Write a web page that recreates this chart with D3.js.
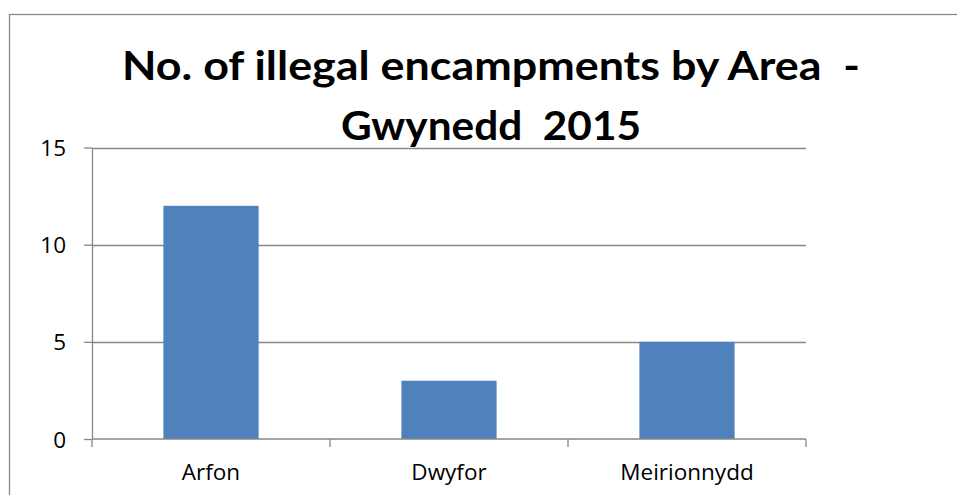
<!DOCTYPE html>
<html><head><meta charset="utf-8">
<script src="https://cdn.jsdelivr.net/npm/d3@7"></script>
<style>body{margin:0;background:#fff}svg{display:block}text{white-space:pre}</style>
</head><body>
<svg id="c" width="957" height="495"></svg>
<script>
const categories = ["Arfon", "Dwyfor", "Meirionnydd"];
const values = [12, 3, 5];
const yTicks = [0, 5, 10, 15];
const titleLines = ["No. of illegal encampments by Area  -", "Gwynedd  2015"];

const svg = d3.select("#c");
const plot = {left: 92, right: 806, top: 147.5, bottom: 439};
const grey = "#878787";

svg.append("rect").attr("x", 9.5).attr("y", 14.5).attr("width", 1000).attr("height", 600)
  .attr("fill", "#fff").attr("stroke", grey).attr("stroke-width", 1.3);

const x = d3.scaleBand().domain(categories).range([plot.left, plot.right])
  .paddingInner(0.6).paddingOuter(0.3);
const y = d3.scaleLinear().domain([0, 15]).range([plot.bottom, plot.top]);

// gridlines
svg.append("g").selectAll("line").data(yTicks.filter(d => d > 0)).join("line")
  .attr("x1", plot.left).attr("x2", plot.right)
  .attr("y1", d => Math.round(y(d)) + 0.5).attr("y2", d => Math.round(y(d)) + 0.5)
  .attr("stroke", grey).attr("stroke-width", 1.3);

// bars
svg.append("g").selectAll("rect").data(values).join("rect")
  .attr("x", (d, i) => x(categories[i]))
  .attr("width", x.bandwidth())
  .attr("y", d => y(d))
  .attr("height", d => y(0) - y(d))
  .attr("fill", "#4F81BD");

// y axis
const yAxis = d3.axisLeft(y).tickValues(yTicks).tickSize(8).tickPadding(18).tickSizeOuter(0);
const gy = svg.append("g").attr("transform", `translate(${plot.left},0)`).call(yAxis);
gy.select(".domain").attr("stroke", grey).attr("stroke-width", 1.3);
gy.selectAll(".tick line").attr("stroke", grey).attr("stroke-width", 1.3);
gy.selectAll(".tick text").attr("font-family", "Open Sans, sans-serif").attr("font-size", 22.5)
  .attr("fill", "#000").attr("dy", "0.36em");

// x axis
const xEdge = d3.scalePoint().domain(d3.range(categories.length + 1)).range([plot.left, plot.right]);
const gx = svg.append("g").attr("transform", `translate(0,${plot.bottom})`);
gx.append("line").attr("x1", plot.left).attr("x2", plot.right).attr("stroke", grey).attr("stroke-width", 1.3);
gx.selectAll("line.t").data(xEdge.domain()).join("line").attr("class", "t")
  .attr("x1", d => xEdge(d)).attr("x2", d => xEdge(d)).attr("y1", 0).attr("y2", 8)
  .attr("stroke", grey).attr("stroke-width", 1.3);
gx.selectAll("text").data(categories).join("text")
  .attr("x", d => x(d) + x.bandwidth() / 2).attr("y", 41)
  .attr("text-anchor", "middle").attr("font-family", "Open Sans, sans-serif")
  .attr("font-size", 22.5).attr("fill", "#000").text(d => d);

// title
const tw = [738, 300];
svg.append("g").selectAll("text").data(titleLines).join("text")
  .attr("x", 491).attr("y", (d, i) => 80 + i * 60)
  .attr("text-anchor", "middle").attr("font-family", "Lato, sans-serif")
  .attr("font-weight", "bold").attr("font-size", 40)
  .attr("fill", "#000")
  .attr("textLength", (d, i) => tw[i]).attr("lengthAdjust", "spacingAndGlyphs")
  .text(d => d);
</script>
</body></html>
